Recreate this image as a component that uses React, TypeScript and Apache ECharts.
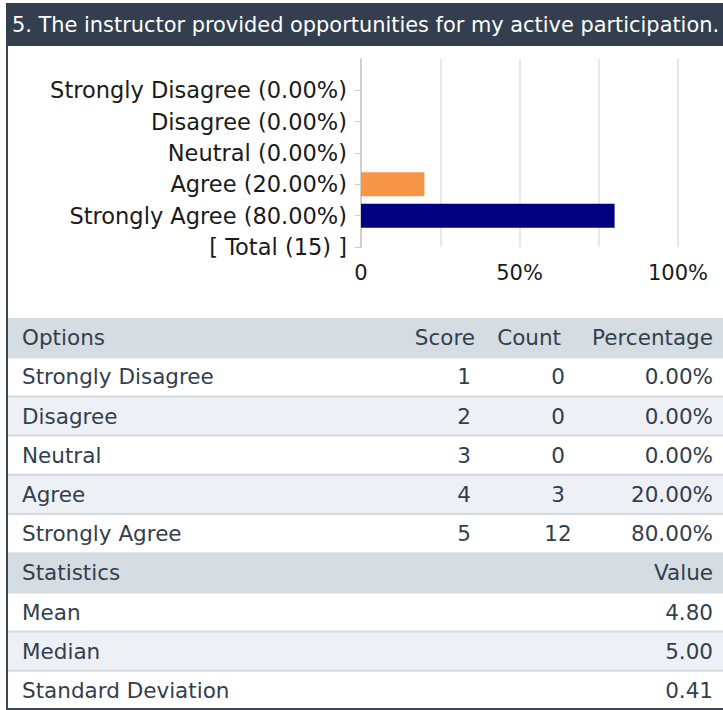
import React, { useEffect, useRef } from "react";
import * as echarts from "echarts";

const title = "5. The instructor provided opportunities for my active participation.";
const options = ["Strongly Disagree", "Disagree", "Neutral", "Agree", "Strongly Agree"];
const scores = [1, 2, 3, 4, 5];
const counts = [0, 0, 0, 3, 12];
const percentages = [0, 0, 0, 20, 80];
const total = 15;
const barColors = ["#c0504d", "#9bbb59", "#4bacc6", "#f79646", "#000080"];
const xTickLabels: Record<number, string> = { 0: "0", 50: "50%", 100: "100%" };
const tableHeaders = ["Options", "Score", "Count", "Percentage"];
const statHeaders = ["Statistics", "Value"];
const statNames = ["Mean", "Median", "Standard Deviation"];
const statValues = [4.8, 5.0, 0.41];

const FONT = "DejaVu Sans";
const DARK = "#333f4f";
const TXT = "#333e4c";
const HEAD_BG = "#d5dde3";
const ALT_BG = "#edf1f5";
const SEP = "#d3dae0";

export default function App() {
  const ref = useRef<HTMLDivElement>(null);
  useEffect(() => {
    if (!ref.current) return;
    const chart = echarts.init(ref.current, null, { renderer: "svg" });

    const cats = [
      "",
      ...options.map((o, i) => `${o} (${percentages[i].toFixed(2)}%)`),
      `[ Total (${total}) ]`,
    ];
    const barData: any[] = [
      "-",
      ...percentages.map((p, i) => ({ value: p, itemStyle: { color: barColors[i] } })),
      "-",
    ];

    const ROW_TOP = 318;
    const ROW_H = 39.2;
    const graphics: any[] = [];

    // header bar
    graphics.push({
      type: "rect",
      shape: { x: 6, y: 3, width: 717, height: 43 },
      style: { fill: DARK },
    });
    graphics.push({
      type: "text",
      style: {
        text: title,
        x: 12,
        y: 25,
        fill: "#ffffff",
        fontSize: 20.9,
        fontFamily: FONT,
        align: "left",
        verticalAlign: "middle",
      },
    });

    // table rows
    const rowBg = [HEAD_BG, "#ffffff", ALT_BG, "#ffffff", ALT_BG, "#ffffff", HEAD_BG, "#ffffff", ALT_BG, "#ffffff"];
    rowBg.forEach((c, i) => {
      graphics.push({
        type: "rect",
        shape: { x: 8, y: ROW_TOP + i * ROW_H, width: 715, height: ROW_H },
        style: { fill: c },
      });
    });
    for (let k = 1; k < rowBg.length; k++) {
      graphics.push({
        type: "line",
        shape: { x1: 8, y1: ROW_TOP + k * ROW_H, x2: 723, y2: ROW_TOP + k * ROW_H },
        style: { stroke: SEP, lineWidth: 2 },
      });
    }

    const txt = (text: string, x: number, row: number, align: string) => ({
      type: "text",
      style: {
        text,
        x,
        y: ROW_TOP + row * ROW_H + ROW_H / 2,
        fill: TXT,
        fontSize: 21.5,
        fontFamily: FONT,
        align,
        verticalAlign: "middle",
      },
    });

    const COL_OPT = 22;
    const COL_SCORE = 475;
    const COL_COUNT_H = 561;
    const COL_COUNT = 558;
    const COL_PCT = 713;

    graphics.push(txt(tableHeaders[0], COL_OPT, 0, "left"));
    graphics.push(txt(tableHeaders[1], COL_SCORE, 0, "right"));
    graphics.push(txt(tableHeaders[2], COL_COUNT_H, 0, "right"));
    graphics.push(txt(tableHeaders[3], COL_PCT, 0, "right"));
    options.forEach((o, i) => {
      graphics.push(txt(o, COL_OPT, i + 1, "left"));
      graphics.push(txt(String(scores[i]), COL_SCORE - 4, i + 1, "right"));
      graphics.push(txt(String(counts[i]), COL_COUNT, i + 1, "center"));
      graphics.push(txt(`${percentages[i].toFixed(2)}%`, COL_PCT, i + 1, "right"));
    });
    graphics.push(txt(statHeaders[0], COL_OPT, 6, "left"));
    graphics.push(txt(statHeaders[1], COL_PCT, 6, "right"));
    statNames.forEach((s, i) => {
      graphics.push(txt(s, COL_OPT, 7 + i, "left"));
      graphics.push(txt(statValues[i].toFixed(2), COL_PCT, 7 + i, "right"));
    });

    // borders
    graphics.push({
      type: "line",
      shape: { x1: 7, y1: 46, x2: 7, y2: 710 },
      style: { stroke: "#3b4655", lineWidth: 2 },
    });
    graphics.push({
      type: "line",
      shape: { x1: 6, y1: 709, x2: 723, y2: 709 },
      style: { stroke: "#3b4655", lineWidth: 2 },
    });

    chart.setOption({
      animation: false,
      backgroundColor: "#ffffff",
      grid: { left: 361, top: 59, width: 317, height: 188, containLabel: false },
      xAxis: {
        type: "value",
        min: 0,
        max: 100,
        interval: 25,
        axisLine: { show: false },
        axisTick: { show: false },
        splitLine: { show: true, lineStyle: { color: "#e0e0e0", width: 1.5 } },
        axisLabel: {
          margin: 15,
          color: "#1a1a1a",
          fontSize: 21,
          fontFamily: FONT,
          formatter: (v: number) => xTickLabels[v] ?? "",
        },
      },
      yAxis: {
        type: "category",
        data: cats,
        inverse: true,
        boundaryGap: false,
        axisLine: { show: true, lineStyle: { color: "#cfcfcf", width: 2 } },
        axisTick: {
          show: true,
          length: 6,
          interval: (index: number) => index !== 0,
          lineStyle: { color: "#cccccc", width: 1 },
        },
        splitLine: { show: false },
        axisLabel: {
          margin: 14,
          color: "#1a1a1a",
          fontSize: 22.5,
          fontFamily: FONT,
          interval: 0,
        },
      },
      series: [
        {
          type: "bar",
          data: barData,
          barWidth: 24,
          silent: true,
        },
      ],
      graphic: graphics,
    });
    return () => chart.dispose();
  }, []);
  return (
    <div
      ref={ref}
      style={{ position: "fixed", left: 0, top: 0, width: 723, height: 710, background: "#fff" }}
    />
  );
}
